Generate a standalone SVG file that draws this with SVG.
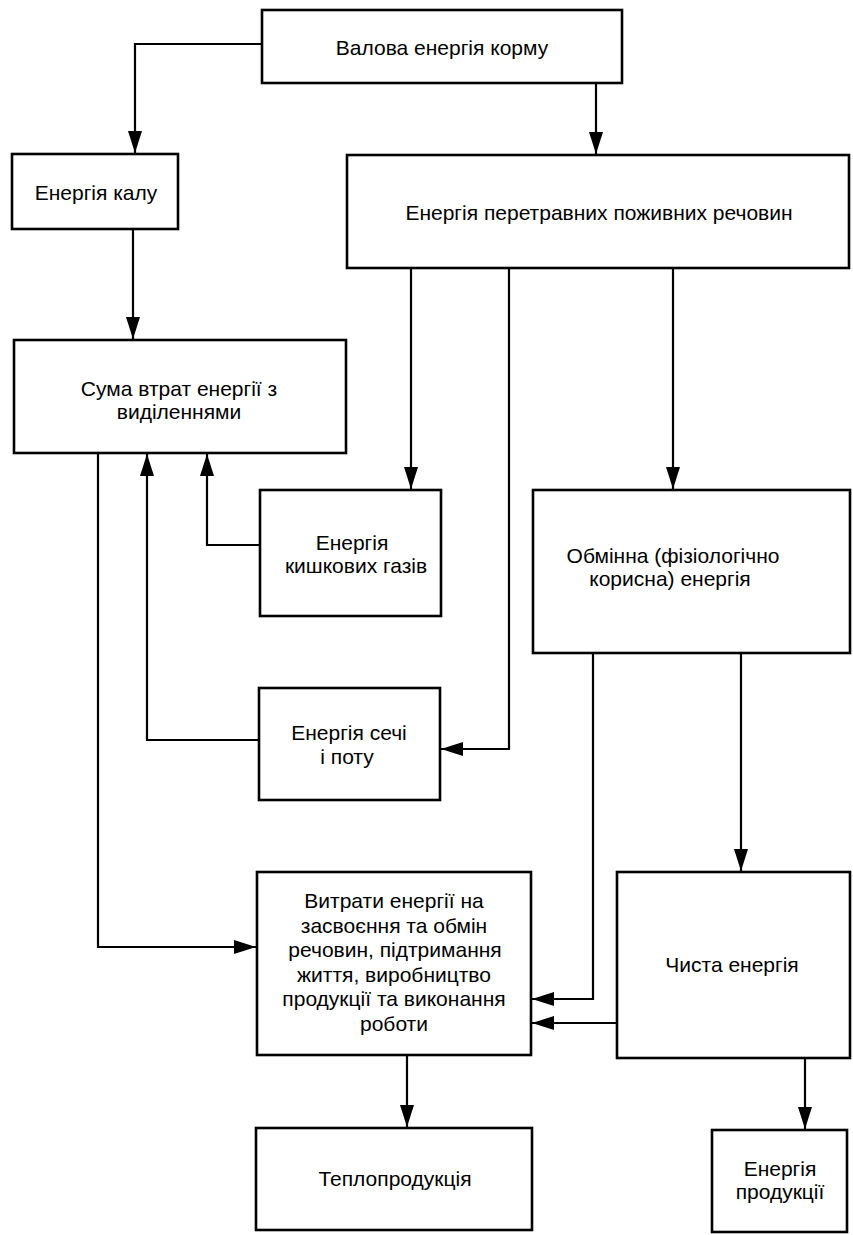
<svg xmlns="http://www.w3.org/2000/svg" width="853" height="1235" viewBox="0 0 853 1235">
<style>
.box{fill:#fff;stroke:#000;stroke-width:2.6}
.t{font-family:"Liberation Sans",Arial,sans-serif;font-size:21px;fill:#000;text-anchor:middle}
.c{fill:none;stroke:#000;stroke-width:2.2}
</style>
<defs>
<marker id="ah" markerUnits="userSpaceOnUse" markerWidth="24" markerHeight="16" refX="22" refY="7" orient="auto">
<path d="M0,0 L22,7 L0,14 z" fill="#000"/>
</marker>
</defs>
<rect width="853" height="1235" fill="#fff"/>
<g id="connectors">
<path class="c" d="M262,44 H135 V153" marker-end="url(#ah)"/>
<path class="c" d="M596,83 V154" marker-end="url(#ah)"/>
<path class="c" d="M133,229 V339" marker-end="url(#ah)"/>
<path class="c" d="M411,268 V489" marker-end="url(#ah)"/>
<path class="c" d="M509,268 V749 H441" marker-end="url(#ah)"/>
<path class="c" d="M673,268 V489" marker-end="url(#ah)"/>
<path class="c" d="M260,545 H207 V454" marker-end="url(#ah)"/>
<path class="c" d="M259,740 H147 V454" marker-end="url(#ah)"/>
<path class="c" d="M98,453 V947 H256" marker-end="url(#ah)"/>
<path class="c" d="M593,653 V999 H532" marker-end="url(#ah)"/>
<path class="c" d="M741,653 V871" marker-end="url(#ah)"/>
<path class="c" d="M617,1023 H532" marker-end="url(#ah)"/>
<path class="c" d="M407,1055 V1127" marker-end="url(#ah)"/>
<path class="c" d="M805,1058 V1129" marker-end="url(#ah)"/>
</g>
<g id="gross">
<rect class="box" x="262" y="10" width="360" height="73"/>
<text class="t" x="442" y="55">Валова енергія корму</text>
</g>
<g id="feces">
<rect class="box" x="12" y="154" width="166" height="75"/>
<text class="t" x="96" y="200">Енергія калу</text>
</g>
<g id="digestible">
<rect class="box" x="347" y="155" width="502" height="113"/>
<text class="t" x="599" y="220">Енергія перетравних поживних речовин</text>
</g>
<g id="losses">
<rect class="box" x="14" y="340" width="332" height="113"/>
<text class="t" x="179" y="396">Сума втрат енергії з</text>
<text class="t" x="179" y="419">виділеннями</text>
</g>
<g id="gases">
<rect class="box" x="260" y="490" width="181" height="126"/>
<text class="t" x="352" y="550">Енергія</text>
<text class="t" x="356" y="573">кишкових газів</text>
</g>
<g id="metabolizable">
<rect class="box" x="533" y="490" width="317" height="163"/>
<text class="t" x="673" y="563">Обмінна (фізіологічно</text>
<text class="t" x="670" y="586">корисна) енергія</text>
</g>
<g id="urine">
<rect class="box" x="259" y="688" width="181" height="112"/>
<text class="t" x="349" y="740">Енергія сечі</text>
<text class="t" x="347" y="764">і поту</text>
</g>
<g id="expenditure">
<rect class="box" x="257" y="872" width="274" height="183"/>
<text class="t" x="394" y="908">Витрати енергії на</text>
<text class="t" x="394" y="933">засвоєння та обмін</text>
<text class="t" x="395" y="957">речовин, підтримання</text>
<text class="t" x="394" y="982">життя, виробництво</text>
<text class="t" x="394" y="1006">продукції та виконання</text>
<text class="t" x="394" y="1031">роботи</text>
</g>
<g id="net">
<rect class="box" x="617" y="872" width="233" height="186"/>
<text class="t" x="732" y="972">Чиста енергія</text>
</g>
<g id="heat">
<rect class="box" x="256" y="1128" width="276" height="102"/>
<text class="t" x="395" y="1186">Теплопродукція</text>
</g>
<g id="product">
<rect class="box" x="712" y="1130" width="135" height="102"/>
<text class="t" x="780" y="1176">Енергія</text>
<text class="t" x="780" y="1199">продукції</text>
</g>
</svg>
